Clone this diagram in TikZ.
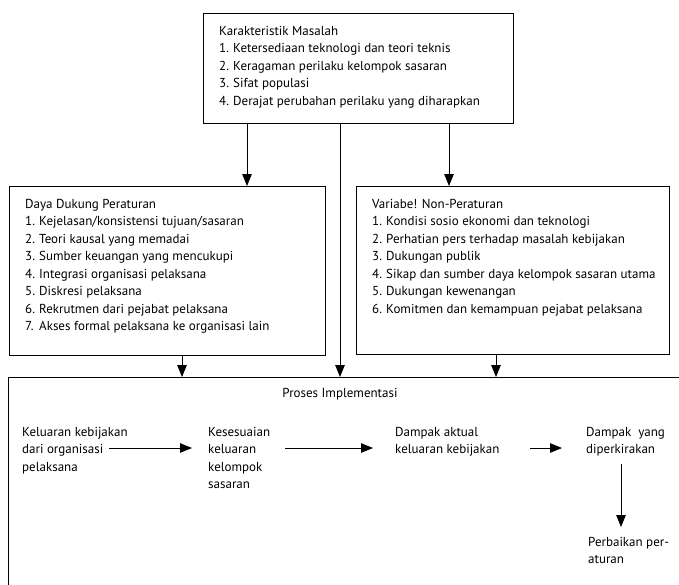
\documentclass[tikz,border=0pt]{standalone}
\usepackage{fontspec}
\setmainfont{PT Sans}
\usetikzlibrary{arrows.meta,calc,positioning}
\newcommand{\itm}[2]{\makebox[14pt][l]{#1}#2}

\begin{document}
\begin{tikzpicture}[x=1pt,y=-1pt,
  box/.style={draw,line width=1.2pt,anchor=north west,inner sep=0pt},
  txt/.style={anchor=north west,align=left,inner sep=0pt,font=\fontsize{13}{17.5}\selectfont},
  arr/.style={line width=0.9pt,-{Triangle[length=12pt,width=9.5pt]}}]
\useasboundingbox (0,0) rectangle (679,584);
\clip (0,0) rectangle (679,584);
% the four frames
\node[box,minimum width=310pt,minimum height=110pt] (karakter) at (203,13) {};
\node[box,minimum width=316pt,minimum height=169pt] (dukung) at (9,186) {};
\node[box,minimum width=313pt,minimum height=168pt] (nonatur) at (356,186) {};
\node[box,minimum width=720pt,minimum height=260pt] (proses) at (8,377) {};
% lists
\node[txt] (karaktertxt) at ($(karakter.north west)+(16,13)$) {Karakteristik Masalah\\
  \itm{1.}{Ketersediaan teknologi dan teori teknis}\\
  \itm{2.}{Keragaman perilaku kelompok sasaran}\\
  \itm{3.}{Sifat populasi}\\
  \itm{4.}{Derajat perubahan perilaku yang diharapkan}};
\node[txt] (dukungtxt) at ($(dukung.north west)+(16,13)$) {Daya Dukung Peraturan\\
  \itm{1.}{Kejelasan/konsistensi tujuan/sasaran}\\
  \itm{2.}{Teori kausal yang memadai}\\
  \itm{3.}{Sumber keuangan yang mencukupi}\\
  \itm{4.}{Integrasi organisasi pelaksana}\\
  \itm{5.}{Diskresi pelaksana}\\
  \itm{6.}{Rekrutmen dari pejabat pelaksana}\\
  \itm{7.}{Akses formal pelaksana ke organisasi lain}};
\node[txt] (nonaturtxt) at ($(nonatur.north west)+(16,13)$) {Variabe! Non-Peraturan\\
  \itm{1.}{Kondisi sosio ekonomi dan teknologi}\\
  \itm{2.}{Perhatian pers terhadap masalah kebijakan}\\
  \itm{3.}{Dukungan publik}\\
  \itm{4.}{Sikap dan sumber daya kelompok sasaran utama}\\
  \itm{5.}{Dukungan kewenangan}\\
  \itm{6.}{Komitmen dan kemampuan pejabat pelaksana}};
% implementation flow
\node[txt,anchor=north] (judul) at (340,388) {Proses Implementasi};
\node[txt] (k1) at (22,427) {Keluaran kebijakan\\dari organisasi\\pelaksana};
\node[txt] (k2) at (208,427) {Kesesuaian\\keluaran\\kelompok\\sasaran};
\node[txt] (k3) at (395,427) {Dampak aktual\\keluaran kebijakan};
\node[txt] (k4) at (586,427) {Dampak~~yang\\diperkirakan};
\node[txt] (k5) at (588,537) {Perbaikan per-\\aturan};
\coordinate (flow) at (0,448);

\draw[arr] (247,0 |- karakter.south) -- (247,0 |- dukung.north);
\draw[arr] (449,0 |- karakter.south) -- (449,0 |- nonatur.north);
\draw[arr] (340,0 |- karakter.south) -- (340,0 |- proses.north);
\draw[arr] (182,0 |- dukung.south) -- (182,0 |- proses.north);
\draw[arr] (496,0 |- nonatur.south) -- (496,0 |- proses.north);

\draw[arr] ($(k1.west |- flow)+(87,0)$) -- ($(k2.west |- flow)+(-16,0)$);
\draw[arr] ($(k2.west |- flow)+(77,0)$) -- ($(k3.west |- flow)+(-22,0)$);
\draw[arr] ($(k3.west |- flow)+(135,0)$) -- ($(k4.west |- flow)+(-24,0)$);
\draw[arr] ($(k4.south west)+(35,7)$) -- ($(k5.north west)+(33,-10)$);
\end{tikzpicture}
\end{document}
